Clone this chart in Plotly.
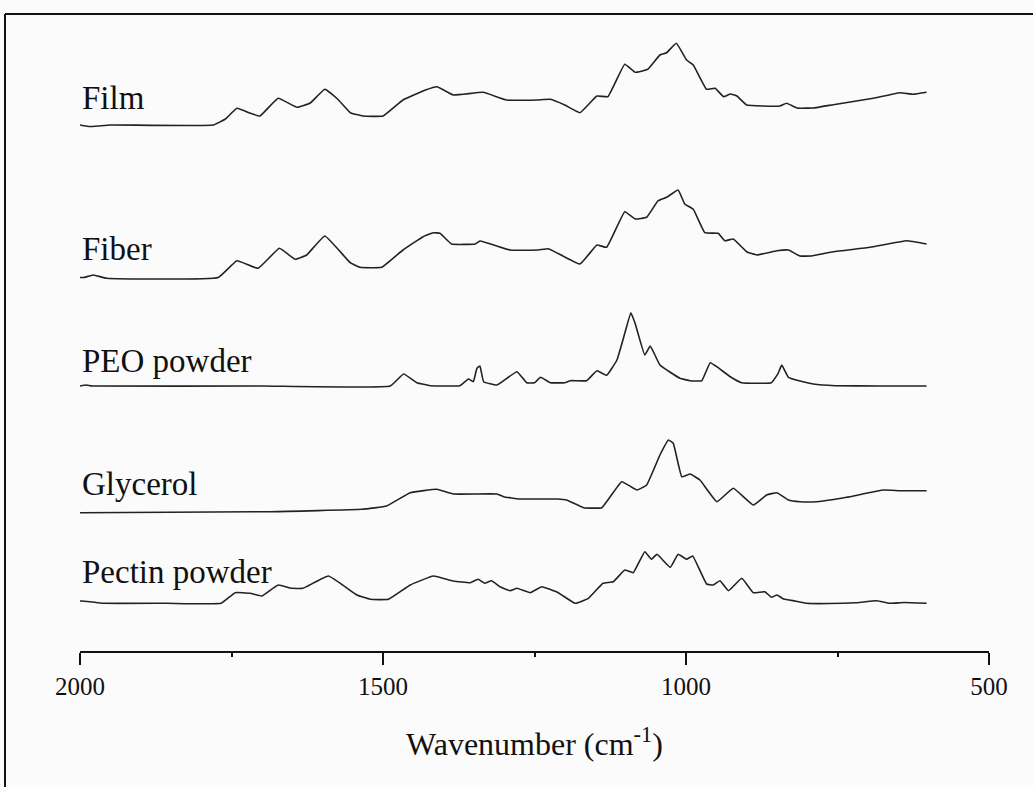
import plotly.graph_objects as go

# ---- data (wavenumber in cm-1, intensity in arbitrary units above each baseline) ----
film_wn = [2000, 1985, 1970, 1950, 1780, 1760, 1741, 1720, 1703, 1673, 1642, 1620, 1596, 1575, 1554, 1533,
           1500, 1467, 1430, 1411, 1384, 1335, 1296, 1246, 1224, 1200, 1175, 1147, 1129, 1101, 1084, 1063,
           1043, 1032, 1016, 999, 988, 966, 952, 938, 927, 916, 900, 873, 845, 834, 817, 790, 757, 691, 647,
           625, 603]
film_int = [0, -1.5, -1, 0, 0, 6, 16.7, 12, 9, 26.7, 17.7, 22, 35.7, 26, 12.3, 9,
            9, 25, 35, 38.3, 30, 32.7, 25, 25, 25.7, 20, 12.3, 29, 28.3, 60.7, 52.7, 55.7,
            70, 72.3, 81.7, 65, 60, 35.7, 36.7, 28.3, 31, 29, 20, 19, 19, 21.7, 17, 17, 20.3, 26.7, 32.3,
            30.7, 32.7]

fiber_wn = [2000, 1994, 1978, 1956, 1772, 1741, 1706, 1671, 1645, 1626, 1596, 1554, 1538, 1502, 1467, 1434,
            1417, 1406, 1387, 1348, 1340, 1290, 1244, 1227, 1175, 1147, 1131, 1101, 1084, 1065, 1046, 1032,
            1013, 1002, 988, 969, 947, 936, 922, 900, 883, 850, 831, 812, 793, 757, 696, 636, 603]
fiber_int = [0, 0, 2.5, -0.8, 0, 16.8, 9.2, 29.2, 18.2, 22.5, 41.5, 14.8, 10.2, 10.2, 27.5, 40.8,
             44.8, 44.2, 33.5, 33.5, 36.5, 27.5, 27.5, 28.8, 13.5, 32.5, 30.2, 65.8, 58.5, 60.2, 76.8, 80.2,
             87.5, 73.5, 68.2, 44.8, 44.2, 36.8, 38.5, 25.8, 22.5, 26.8, 27.5, 21.5, 21.5, 25.8, 30.2, 36.8, 33.5]

peo_wn = [2000, 1990, 1980, 1700, 1488, 1466, 1444, 1422, 1373, 1359, 1351, 1345, 1340, 1334, 1312, 1279, 1263,
          1250, 1240, 1224, 1200, 1191, 1164, 1147, 1131, 1114, 1101, 1091, 1084, 1068, 1059, 1043, 1010,
          993, 974, 960, 947, 927, 908, 859, 848, 842, 831, 812, 790, 754, 680, 603]
peo_int = [0, 1, 0, 0, 0, 12, 3.3, 0.3, 0.3, 7, 4.3, 17.7, 20, 4.3, 1, 14.3, 3.3,
           3.3, 8.7, 3.3, 3.3, 5.3, 5.3, 15.3, 10.7, 26, 52.7, 73.3, 62.7, 31, 40, 21, 7.7,
           5.3, 5.3, 23.3, 18.3, 9.3, 3.3, 3.3, 12.7, 21, 8.7, 5, 2, 0.3, 0, 0]

gly_wn = [2000, 1686, 1535, 1494, 1455, 1411, 1384, 1312, 1301, 1274, 1213, 1197, 1169, 1139, 1106, 1081,
          1065, 1043, 1029, 1021, 1007, 993, 977, 949, 922, 889, 867, 850, 831, 812, 784, 735, 674, 647, 603]
gly_int = [0, 1, 3.4, 6.7, 20, 23.4, 18.7, 18.7, 16, 13.7, 13.7, 12.7, 5, 5, 31, 22.7,
           27.7, 57.7, 72.7, 69.4, 36, 38.7, 32.7, 11, 24.4, 7.7, 17.7, 20, 12.7, 11, 11, 15.4, 22.7, 22, 22]

pec_wn = [2000, 1997, 1980, 1962, 1857, 1767, 1744, 1719, 1700, 1673, 1651, 1632, 1590, 1543, 1521, 1491,
          1455, 1417, 1384, 1356, 1343, 1332, 1321, 1307, 1290, 1279, 1257, 1238, 1211, 1183, 1161, 1137,
          1120, 1101, 1087, 1068, 1057, 1048, 1026, 1013, 999, 989, 966, 955, 944, 930, 908, 889, 870, 859,
          850, 839, 820, 801, 741, 720, 685, 665, 640, 603]
pec_int = [2.3, 2.3, 1.3, 0, 0, 0, 10.6, 10, 7.3, 18.3, 15, 15, 27.3, 8.3, 4, 4,
           18.3, 27.3, 22.3, 20.6, 24, 20, 22.6, 16.6, 12.6, 15, 10.6, 16.6, 10.6, 0, 5, 20,
           21.6, 33.3, 30.6, 51.6, 44, 49, 36, 49, 44, 47.3, 19.3, 18.3, 22.6, 12.6, 25, 10.6, 11.6, 6,
           8.3, 4.3, 2.3, 0, 0, 0.5, 2.6, 0, 0.8, 0]

names = ["Film", "Fiber", "PEO powder", "Glycerol", "Pectin powder"]
wavenumbers = [film_wn, fiber_wn, peo_wn, gly_wn, pec_wn]
intensities = [film_int, fiber_int, peo_int, gly_int, pec_int]
offsets = [526, 373.5, 265, 138.3, 47.7]          # vertical stacking offsets (a.u.)
label_y = [553.5, 402.5, 290, 167.5, 79.5]         # label vertical positions (a.u.)

x_ticks = [2000, 1500, 1000, 500]
x_minor = [1750, 1250, 750]

fig = go.Figure()
for wn, inten, off in zip(wavenumbers, intensities, offsets):
    fig.add_trace(go.Scatter(
        x=wn, y=[v + off for v in inten], mode="lines",
        line=dict(color="#222222", width=1.6, shape="spline", smoothing=0.3),
        showlegend=False, hoverinfo="skip"))

serif = "Liberation Serif, Times New Roman, serif"
for name, ly in zip(names, label_y):
    fig.add_annotation(x=2000, y=ly, xref="x", yref="y", text=name, showarrow=False,
                       xanchor="left", yanchor="middle", xshift=0,
                       font=dict(family=serif, size=33, color="#111"))

fig.update_xaxes(
    range=[2000, 500], tickvals=x_ticks, ticktext=[str(t) for t in x_ticks],
    showline=True, linewidth=2, linecolor="#111", ticks="outside", ticklen=12, tickwidth=2,
    tickcolor="#111", showgrid=False, zeroline=False,
    tickfont=dict(family=serif, size=25, color="#111"),
    minor=dict(tickvals=x_minor, ticks="outside", ticklen=4, tickwidth=2, tickcolor="#111", showgrid=False),
    title=dict(text="Wavenumber (cm<sup>-1</sup>)", font=dict(family=serif, size=32, color="#111"), standoff=34),
)
fig.update_yaxes(visible=False, range=[0, 637], fixedrange=True)

# frame lines (top and left edges of the picture border)
fig.add_shape(type="line", xref="paper", yref="paper", x0=-0.0825, x1=1.1, y0=1, y1=1,
              line=dict(color="#111", width=2))
fig.add_shape(type="line", xref="paper", yref="paper", x0=-0.0825, x1=-0.0825, y0=1, y1=-0.3,
              line=dict(color="#111", width=2))

fig.update_layout(
    width=1033, height=787, margin=dict(l=80, r=44, t=14, b=136),
    paper_bgcolor="#fbfbfb", plot_bgcolor="#fbfbfb", showlegend=False,
)
fig.write_html("out.html", config={"displayModeBar": False},
               post_script="document.body.style.margin='0';document.body.style.background='#fbfbfb';")
